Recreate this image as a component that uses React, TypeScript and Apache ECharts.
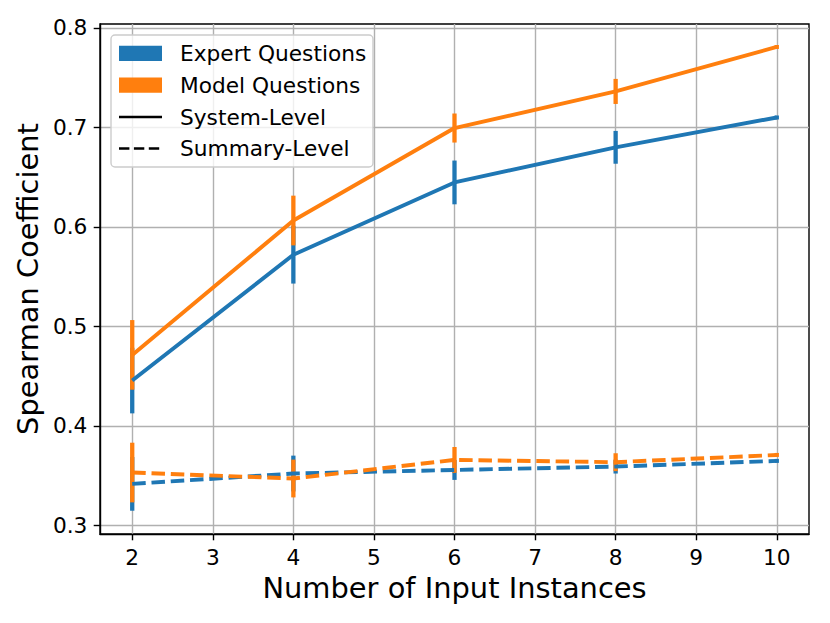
import React, { useEffect, useRef } from "react";
import * as echarts from "echarts";

const xValues = [2, 4, 6, 8, 10];
const xTicks = [2, 3, 4, 5, 6, 7, 8, 9, 10];
const yTicks = [0.3, 0.4, 0.5, 0.6, 0.7, 0.8];

const expertSystem = [0.4455, 0.572, 0.6447, 0.68, 0.71];
const expertSystemErr = [0.033, 0.029, 0.022, 0.0165, 0.002];
const modelSystem = [0.4713, 0.6064, 0.6994, 0.7362, 0.7809];
const modelSystemErr = [0.035, 0.025, 0.0146, 0.0126, 0.002];
const expertSummary = [0.3416, 0.352, 0.3556, 0.359, 0.3647];
const expertSummaryErr = [0.027, 0.018, 0.01, 0.007, 0.002];
const modelSummary = [0.353, 0.347, 0.3657, 0.3634, 0.3707];
const modelSummaryErr = [0.03, 0.019, 0.013, 0.009, 0.002];

const legendLabels = ["Expert Questions", "Model Questions", "System-Level", "Summary-Level"];

const BLUE = "#1f77b4";
const ORANGE = "#ff7f0e";
const FONT = "DejaVu Sans";

function pts(vals: number[]) {
  return xValues.map((x, i) => [x, vals[i]]);
}
function errPts(vals: number[], errs: number[]) {
  return xValues.map((x, i) => [x, vals[i] - errs[i], vals[i] + errs[i]]);
}

function errSeries(name: string, vals: number[], errs: number[], color: string) {
  return {
    type: "custom",
    name,
    data: errPts(vals, errs),
    encode: { x: 0, y: [1, 2] },
    renderItem: (params: any, api: any) => {
      const x = api.value(0);
      const p1 = api.coord([x, api.value(1)]);
      const p2 = api.coord([x, api.value(2)]);
      return {
        type: "line",
        shape: { x1: p1[0], y1: p1[1], x2: p2[0], y2: p2[1] },
        style: { stroke: color, lineWidth: 4.3 },
      };
    },
    z: 2,
  };
}

function lineSeries(name: string, vals: number[], color: string, dashed: boolean) {
  return {
    type: "line",
    name,
    data: pts(vals),
    symbol: "none",
    lineStyle: { color, width: 3.9, type: dashed ? [13.5, 5.8] : "solid", cap: "butt" },
    z: 3,
  };
}

export default function App() {
  const ref = useRef<HTMLDivElement>(null);
  useEffect(() => {
    document.body.style.margin = "0";
    const chart = echarts.init(ref.current!, null, { renderer: "svg" });
    const legX = 111;
    const legY = 35;
    const rowY = [53.3, 85.2, 117, 148.5];
    const option: any = {
      animation: false,
      backgroundColor: "#ffffff",
      grid: {
        left: 100,
        right: 21,
        top: 24,
        bottom: 89,
        show: true,
        borderColor: "#000000",
        borderWidth: 1.4,
        backgroundColor: "transparent",
      },
      xAxis: {
        type: "value",
        min: 1.6,
        max: 10.4,
        name: "Number of Input Instances",
        nameLocation: "middle",
        nameGap: 38,
        nameTextStyle: { fontFamily: FONT, fontSize: 28.9, color: "#000" },
        axisLine: { show: true, lineStyle: { color: "#000", width: 1.4 } },
        axisTick: { show: true, customValues: xTicks, length: 6.3, lineStyle: { color: "#000", width: 1.4 } },
        axisLabel: {
          customValues: xTicks,
          margin: 12.6,
          fontFamily: FONT,
          fontSize: 21.7,
          color: "#000",
          formatter: (v: number) => String(v),
        },
        splitLine: { show: true, lineStyle: { color: "#b0b0b0", width: 1.4 } },
      },
      yAxis: {
        type: "value",
        min: 0.2912,
        max: 0.804,
        name: "Spearman Coefficient",
        nameLocation: "middle",
        nameGap: 56,
        nameTextStyle: { fontFamily: FONT, fontSize: 28.9, color: "#000" },
        axisLine: { show: true, lineStyle: { color: "#000", width: 1.4 } },
        axisTick: { show: true, customValues: yTicks, length: 6.3, lineStyle: { color: "#000", width: 1.4 } },
        axisLabel: {
          customValues: yTicks,
          margin: 12.6,
          fontFamily: FONT,
          fontSize: 21.7,
          color: "#000",
          formatter: (v: number) => v.toFixed(1),
        },
        splitLine: { show: true, lineStyle: { color: "#b0b0b0", width: 1.4 } },
      },
      series: [
        errSeries("Expert System Err", expertSystem, expertSystemErr, BLUE),
        errSeries("Model System Err", modelSystem, modelSystemErr, ORANGE),
        errSeries("Expert Summary Err", expertSummary, expertSummaryErr, BLUE),
        errSeries("Model Summary Err", modelSummary, modelSummaryErr, ORANGE),
        lineSeries("Expert System", expertSystem, BLUE, false),
        lineSeries("Model System", modelSystem, ORANGE, false),
        lineSeries("Expert Summary", expertSummary, BLUE, true),
        lineSeries("Model Summary", modelSummary, ORANGE, true),
      ],
      graphic: [
        {
          type: "rect",
          shape: { x: legX, y: legY, width: 262, height: 132, r: 4 },
          style: { fill: "rgba(255,255,255,0.8)", stroke: "#cccccc", lineWidth: 1.4 },
          z: 100,
        },
        {
          type: "rect",
          shape: { x: 119, y: rowY[0] - 7.6, width: 43, height: 15.2 },
          style: { fill: BLUE },
          z: 101,
        },
        {
          type: "rect",
          shape: { x: 119, y: rowY[1] - 7.6, width: 43, height: 15.2 },
          style: { fill: ORANGE },
          z: 101,
        },
        {
          type: "line",
          shape: { x1: 119, y1: rowY[2], x2: 162, y2: rowY[2] },
          style: { stroke: "#000", lineWidth: 2.6 },
          z: 101,
        },
        {
          type: "line",
          shape: { x1: 119, y1: rowY[3], x2: 162, y2: rowY[3] },
          style: { stroke: "#000", lineWidth: 2.6, lineDash: [10.4, 4.5] },
          z: 101,
        },
        ...legendLabels.map((t, i) => ({
          type: "text",
          x: 180,
          y: rowY[i],
          style: {
            text: t,
            fontFamily: FONT,
            fontSize: 21.7,
            fill: "#000",
            textVerticalAlign: "middle",
            verticalAlign: "middle",
          },
          z: 101,
        })),
      ],
    };
    chart.setOption(option);
    return () => chart.dispose();
  }, []);
  return <div ref={ref} style={{ width: 830, height: 623 }} />;
}
